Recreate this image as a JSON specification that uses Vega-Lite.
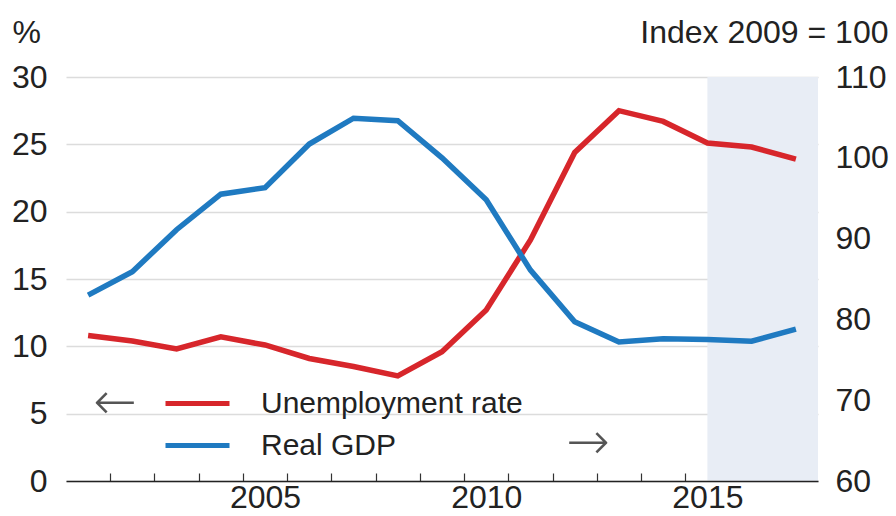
{
  "$schema": "https://vega.github.io/schema/vega-lite/v6.json",
  "width": 752,
  "height": 404,
  "autosize": {"type": "none"},
  "padding": {"left": 66, "top": 77, "right": 78, "bottom": 35},
  "background": "white",
  "config": {
    "view": {"stroke": null},
    "font": "Liberation Sans"
  },
  "datasets": {
    "series": [
      {"year": 2001, "series": "Unemployment rate", "value": 10.8},
      {"year": 2002, "series": "Unemployment rate", "value": 10.4},
      {"year": 2003, "series": "Unemployment rate", "value": 9.8},
      {"year": 2004, "series": "Unemployment rate", "value": 10.7},
      {"year": 2005, "series": "Unemployment rate", "value": 10.1},
      {"year": 2006, "series": "Unemployment rate", "value": 9.1},
      {"year": 2007, "series": "Unemployment rate", "value": 8.5},
      {"year": 2008, "series": "Unemployment rate", "value": 7.8},
      {"year": 2009, "series": "Unemployment rate", "value": 9.6},
      {"year": 2010, "series": "Unemployment rate", "value": 12.7},
      {"year": 2011, "series": "Unemployment rate", "value": 17.9},
      {"year": 2012, "series": "Unemployment rate", "value": 24.4},
      {"year": 2013, "series": "Unemployment rate", "value": 27.5},
      {"year": 2014, "series": "Unemployment rate", "value": 26.7},
      {"year": 2015, "series": "Unemployment rate", "value": 25.1},
      {"year": 2016, "series": "Unemployment rate", "value": 24.8},
      {"year": 2017, "series": "Unemployment rate", "value": 23.9},
      {"year": 2001, "series": "Real GDP", "value": 83.0},
      {"year": 2002, "series": "Real GDP", "value": 85.9},
      {"year": 2003, "series": "Real GDP", "value": 91.1},
      {"year": 2004, "series": "Real GDP", "value": 95.5},
      {"year": 2005, "series": "Real GDP", "value": 96.3},
      {"year": 2006, "series": "Real GDP", "value": 101.7},
      {"year": 2007, "series": "Real GDP", "value": 104.9},
      {"year": 2008, "series": "Real GDP", "value": 104.6},
      {"year": 2009, "series": "Real GDP", "value": 100.0},
      {"year": 2010, "series": "Real GDP", "value": 94.8},
      {"year": 2011, "series": "Real GDP", "value": 86.1},
      {"year": 2012, "series": "Real GDP", "value": 79.7},
      {"year": 2013, "series": "Real GDP", "value": 77.2},
      {"year": 2014, "series": "Real GDP", "value": 77.6},
      {"year": 2015, "series": "Real GDP", "value": 77.5},
      {"year": 2016, "series": "Real GDP", "value": 77.3},
      {"year": 2017, "series": "Real GDP", "value": 78.8}
    ],
    "shade": [{"start": 2015, "end": 2017.5}],
    "arrows": [
      {"year": 2001.6, "value": 5.8, "label": "←"},
      {"year": 2012.3, "value": 2.8, "label": "→"}
    ]
  },
  "layer": [
    {
      "data": {"name": "shade"},
      "mark": {"type": "rect", "color": "#e8edf5"},
      "encoding": {
        "x": {
          "field": "start", "type": "quantitative",
          "scale": {"domain": [2000.5, 2017.5], "nice": false, "zero": false},
          "axis": {
            "values": [2001.5, 2002.5, 2003.5, 2004.5, 2005.5, 2006.5, 2007.5, 2008.5, 2009.5, 2010.5, 2011.5, 2012.5, 2013.5, 2014.5, 2005, 2010, 2015],
            "labelExpr": "datum.value % 5 === 0 ? '' + datum.value : ''",
            "tickOpacity": {"condition": {"test": "datum.value % 1 === 0", "value": 0}, "value": 1},
            "tickSize": -8, "tickWidth": 1.2, "tickColor": "#333",
            "domainColor": "#222", "domainWidth": 1.5,
            "labelPadding": 9, "labelFontSize": 32, "labelColor": "#222", "labelFont": "Liberation Sans",
            "labelOverlap": false, "labelFlush": false, "labelBound": false,
            "grid": false, "title": null, "zindex": 1
          }
        },
        "x2": {"field": "end"}
      }
    },
    {
      "layer": [
        {
          "data": {"name": "series"},
          "transform": [{"filter": "datum.series === 'Unemployment rate'"}],
          "mark": {"type": "line", "strokeWidth": 5.5, "strokeJoin": "miter"},
          "encoding": {
            "x": {
              "field": "year", "type": "quantitative",
              "scale": {"domain": [2000.5, 2017.5], "nice": false, "zero": false},
              "axis": {
                "values": [2001.5, 2002.5, 2003.5, 2004.5, 2005.5, 2006.5, 2007.5, 2008.5, 2009.5, 2010.5, 2011.5, 2012.5, 2013.5, 2014.5, 2005, 2010, 2015],
                "labelExpr": "datum.value % 5 === 0 ? '' + datum.value : ''",
                "tickOpacity": {"condition": {"test": "datum.value % 1 === 0", "value": 0}, "value": 1},
                "tickSize": -8, "tickWidth": 1.2, "tickColor": "#333",
                "domainColor": "#222", "domainWidth": 1.5,
                "labelPadding": 9, "labelFontSize": 32, "labelColor": "#222", "labelFont": "Liberation Sans",
                "labelOverlap": false, "labelFlush": false, "labelBound": false,
                "grid": false, "title": null, "zindex": 1
              }
            },
            "y": {
              "field": "value", "type": "quantitative",
              "scale": {"domain": [0, 30], "nice": false},
              "axis": {
                "orient": "left",
                "values": [0, 5, 10, 15, 20, 25, 30],
                "grid": true, "gridColor": "#dcdcdc", "gridWidth": 1.5,
                "domain": false, "ticks": false,
                "labelPadding": 19,
                "labelFontSize": 32, "labelColor": "#222", "labelFont": "Liberation Sans",
                "title": "%", "titleAngle": 0, "titleAlign": "left", "titleBaseline": "alphabetic",
                "titleX": -54, "titleY": -35,
                "titleFontSize": 32, "titleFontWeight": "normal", "titleColor": "#222", "titleFont": "Liberation Sans"
              }
            },
            "color": {
              "field": "series", "type": "nominal",
              "scale": {"domain": ["Unemployment rate", "Real GDP"], "range": ["#d7262b", "#1f7ac1"]},
              "legend": {
                "title": null, "orient": "none", "legendX": 113, "legendY": 308, "direction": "vertical",
                "symbolType": "M-2,0H2", "symbolSize": 1024, "symbolStrokeWidth": 5, "symbolFillColor": "transparent",
                "labelFontSize": 30, "labelFont": "Liberation Sans", "labelColor": "#222",
                "labelOffset": 45, "rowPadding": 8, "labelLimit": 0
              }
            }
          }
        },
        {
          "data": {"name": "arrows"},
          "mark": {"type": "text", "fontSize": 52, "font": "DejaVu Sans", "fontWeight": 200, "color": "#555", "baseline": "middle", "align": "center"},
          "encoding": {
            "x": {
              "field": "year", "type": "quantitative",
              "scale": {"domain": [2000.5, 2017.5], "nice": false, "zero": false},
              "axis": {
                "values": [2001.5, 2002.5, 2003.5, 2004.5, 2005.5, 2006.5, 2007.5, 2008.5, 2009.5, 2010.5, 2011.5, 2012.5, 2013.5, 2014.5, 2005, 2010, 2015],
                "labelExpr": "datum.value % 5 === 0 ? '' + datum.value : ''",
                "tickOpacity": {"condition": {"test": "datum.value % 1 === 0", "value": 0}, "value": 1},
                "tickSize": -8, "tickWidth": 1.2, "tickColor": "#333",
                "domainColor": "#222", "domainWidth": 1.5,
                "labelPadding": 9, "labelFontSize": 32, "labelColor": "#222", "labelFont": "Liberation Sans",
                "labelOverlap": false, "labelFlush": false, "labelBound": false,
                "grid": false, "title": null, "zindex": 1
              }
            },
            "y": {
              "field": "value", "type": "quantitative",
              "scale": {"domain": [0, 30], "nice": false},
              "axis": {
                "orient": "left",
                "values": [0, 5, 10, 15, 20, 25, 30],
                "grid": true, "gridColor": "#dcdcdc", "gridWidth": 1.5,
                "domain": false, "ticks": false,
                "labelPadding": 19,
                "labelFontSize": 32, "labelColor": "#222", "labelFont": "Liberation Sans",
                "title": "%", "titleAngle": 0, "titleAlign": "left", "titleBaseline": "alphabetic",
                "titleX": -54, "titleY": -35,
                "titleFontSize": 32, "titleFontWeight": "normal", "titleColor": "#222", "titleFont": "Liberation Sans"
              }
            },
            "text": {"field": "label"}
          }
        }
      ]
    },
    {
      "data": {"name": "series"},
      "transform": [{"filter": "datum.series === 'Real GDP'"}],
      "mark": {"type": "line", "strokeWidth": 5.5, "strokeJoin": "miter"},
      "encoding": {
        "x": {
          "field": "year", "type": "quantitative",
          "scale": {"domain": [2000.5, 2017.5], "nice": false, "zero": false},
          "axis": {
            "values": [2001.5, 2002.5, 2003.5, 2004.5, 2005.5, 2006.5, 2007.5, 2008.5, 2009.5, 2010.5, 2011.5, 2012.5, 2013.5, 2014.5, 2005, 2010, 2015],
            "labelExpr": "datum.value % 5 === 0 ? '' + datum.value : ''",
            "tickOpacity": {"condition": {"test": "datum.value % 1 === 0", "value": 0}, "value": 1},
            "tickSize": -8, "tickWidth": 1.2, "tickColor": "#333",
            "domainColor": "#222", "domainWidth": 1.5,
            "labelPadding": 9, "labelFontSize": 32, "labelColor": "#222", "labelFont": "Liberation Sans",
            "labelOverlap": false, "labelFlush": false, "labelBound": false,
            "grid": false, "title": null, "zindex": 1
          }
        },
        "y": {
          "field": "value", "type": "quantitative",
          "scale": {"domain": [60, 110], "nice": false, "zero": false},
          "axis": {
            "orient": "right",
            "values": [60, 70, 80, 90, 100, 110],
            "grid": false, "domain": false, "ticks": false,
            "labelPadding": 17,
            "labelFontSize": 32, "labelColor": "#222", "labelFont": "Liberation Sans",
            "title": "Index 2009 = 100", "titleAngle": 0, "titleAlign": "right", "titleBaseline": "alphabetic",
            "titleX": 70, "titleY": -35,
            "titleFontSize": 32, "titleFontWeight": "normal", "titleColor": "#222", "titleFont": "Liberation Sans"
          }
        },
        "color": {
          "field": "series", "type": "nominal",
          "scale": {"domain": ["Unemployment rate", "Real GDP"], "range": ["#d7262b", "#1f7ac1"]},
          "legend": {
            "title": null, "orient": "none", "legendX": 113, "legendY": 308, "direction": "vertical",
            "symbolType": "M-2,0H2", "symbolSize": 1024, "symbolStrokeWidth": 5, "symbolFillColor": "transparent",
            "labelFontSize": 30, "labelFont": "Liberation Sans", "labelColor": "#222",
            "labelOffset": 45, "rowPadding": 8, "labelLimit": 0
          }
        }
      }
    }
  ],
  "resolve": {"scale": {"y": "independent"}, "axis": {"y": "independent"}}
}
